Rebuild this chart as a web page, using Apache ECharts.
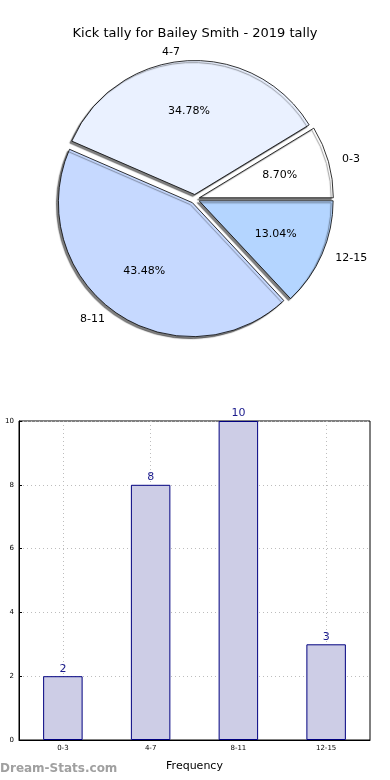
<!DOCTYPE html>
<html>
<head>
<meta charset="utf-8">
<script src="https://cdn.jsdelivr.net/npm/echarts@6/dist/echarts.min.js"></script>
<style>
html,body{margin:0;padding:0;background:#fff;}
#chart{width:390px;height:780px;}
</style>
</head>
<body>
<div id="chart"></div>
<script>
var categories = ['0-3', '4-7', '8-11', '12-15'];
var kickCounts = [2, 8, 10, 3];
var pieColors = ['#ffffff', '#eaf1ff', '#c6d9ff', '#b4d5ff'];
var yTicks = [0, 2, 4, 6, 8, 10];
var titleText = 'Kick tally for Bailey Smith - 2019 tally';

var FONT = 'DejaVu Sans';
var R = 134;
var CENTER = [195, 199];
var EXPLODE = 4.5;

var pieData = categories.map(function (c, i) {
  return { name: c, value: kickCounts[i], selected: true, itemStyle: { color: pieColors[i] } };
});
var pieLabelData = categories.map(function (c, i) {
  return { name: c, value: kickCounts[i], selected: true };
});

var chart = echarts.init(document.getElementById('chart'), null, { renderer: 'canvas' });
chart.setOption({
  animation: false,
  backgroundColor: '#fff',
  title: {
    text: titleText,
    left: 'center',
    top: 22,
    textStyle: { fontFamily: FONT, fontSize: 13, fontWeight: 'normal', color: '#000' }
  },
  graphic: [{
    type: 'text', left: 0, top: 763,
    style: { text: 'Dream-Stats.com', fill: '#a0a0a0', font: 'bold 12px "DejaVu Sans"' }
  }],
  grid: {
    left: 19, right: 20, top: 421, bottom: 40,
    containLabel: false,
    outerBoundsMode: 'none',
    show: true, borderColor: '#000', borderWidth: 1
  },
  xAxis: {
    type: 'category',
    data: categories,
    name: 'Frequency',
    nameLocation: 'middle',
    nameGap: 21,
    nameTextStyle: { fontFamily: FONT, fontSize: 11, color: '#000' },
    axisLine: { lineStyle: { color: '#000' } },
    axisTick: { show: true, alignWithLabel: true, inside: true, length: 3, lineStyle: { color: '#000' } },
    axisLabel: { fontFamily: FONT, fontSize: 7, color: '#000', margin: 5 },
    splitLine: { show: true, alignWithLabel: true, lineStyle: { type: [1, 3], color: '#bdbdbd' } }
  },
  yAxis: {
    type: 'value',
    min: 0, max: 10, interval: 2,
    name: 'Number of Games',
    nameLocation: 'middle',
    nameRotate: 90,
    nameGap: 20,
    nameTextStyle: { fontFamily: FONT, fontSize: 10, color: '#000' },
    axisLine: { show: true, lineStyle: { color: '#000' } },
    axisTick: { show: true, inside: true, length: 3, lineStyle: { color: '#000' } },
    axisLabel: {
      fontFamily: FONT, fontSize: 7, color: '#000', margin: 5,
      formatter: function (v) { return yTicks.indexOf(v) >= 0 ? String(v) : ''; }
    },
    splitLine: { show: true, lineStyle: { type: [1, 3], color: '#bdbdbd' } }
  },
  series: [
    {
      type: 'pie',
      center: CENTER,
      radius: [0, R],
      startAngle: 0,
      clockwise: false,
      selectedMode: 'multiple',
      selectedOffset: EXPLODE,
      avoidLabelOverlap: false,
      emphasis: { disabled: true },
      itemStyle: {
        borderColor: '#000', borderWidth: 0.8,
        shadowColor: 'rgba(0,0,0,0.5)', shadowOffsetX: -2, shadowOffsetY: 2, shadowBlur: 1
      },
      label: {
        show: true, position: 'outside',
        fontFamily: FONT, fontSize: 11, color: '#000',
        formatter: '{b}'
      },
      labelLine: { show: false, length: 9, length2: 0 },
      data: pieData
    },
    {
      type: 'pie',
      center: CENTER,
      radius: [0.2 * R, R],
      startAngle: 0,
      clockwise: false,
      selectedMode: 'multiple',
      selectedOffset: EXPLODE,
      avoidLabelOverlap: false,
      silent: true,
      emphasis: { disabled: true },
      itemStyle: { color: 'rgba(0,0,0,0)', borderWidth: 0 },
      label: {
        show: true, position: 'inside',
        fontFamily: FONT, fontSize: 11, color: '#000',
        formatter: function (p) { return p.percent.toFixed(2) + '%'; }
      },
      labelLine: { show: false },
      data: pieLabelData
    },
    {
      type: 'bar',
      data: kickCounts,
      barWidth: '45%',
      itemStyle: { color: '#cdcde6', borderColor: '#000080', borderWidth: 1 },
      label: {
        show: true, position: 'top', distance: 2,
        fontFamily: FONT, fontSize: 11, color: '#1a1a8c'
      }
    }
  ]
});
</script>
</body>
</html>
